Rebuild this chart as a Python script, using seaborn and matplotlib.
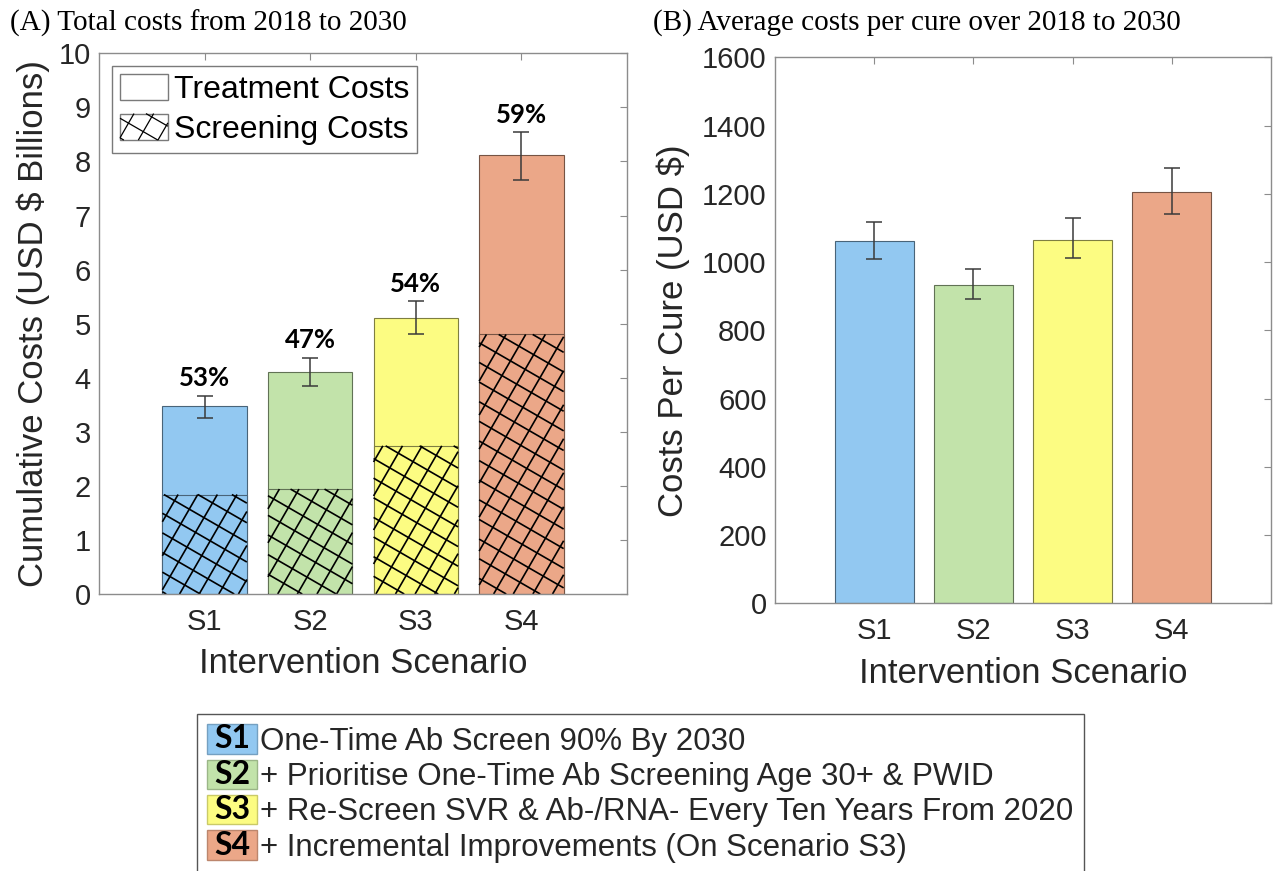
import numpy as np
import pandas as pd
import matplotlib
matplotlib.use("Agg")
import matplotlib.pyplot as plt
import matplotlib.colors as mcolors
import seaborn as sns
from matplotlib.patches import Rectangle
from matplotlib.collections import LineCollection
from matplotlib.legend_handler import HandlerBase
from matplotlib.text import Text
from matplotlib.transforms import IdentityTransform

# ---------------------------------------------------------------- data
scenarios = ["S1", "S2", "S3", "S4"]
scenario_desc = [
    "One-Time Ab Screen 90% By 2030",
    "+ Prioritise One-Time Ab Screening Age 30+ & PWID",
    "+ Re-Screen SVR & Ab-/RNA- Every Ten Years From 2020",
    "+ Incremental Improvements (On Scenario S3)",
]
scenario_colors = ["#92C8F1", "#C2E3AA", "#FCFC82", "#EBA788"]

# cumulative costs 2018-2030 (USD billions)
total_cost = [3.47, 4.11, 5.10, 8.11]
total_lo = [3.25, 3.84, 4.80, 7.66]
total_hi = [3.67, 4.37, 5.41, 8.54]
screening_cost = [1.84, 1.94, 2.74, 4.80]

# average cost per cure (USD)
cost_per_cure = [1062, 934, 1066, 1204]
cure_lo = [1009, 891, 1013, 1142]
cure_hi = [1118, 981, 1128, 1275]

cost_ticks = np.arange(0, 11, 1)
cure_ticks = np.arange(0, 1601, 200)

# ---------------------------------------------------------------- style
sns.set_style("white")
SANS = ["Liberation Sans", "DejaVu Sans"]
BOLD = ["Lato", "DejaVu Sans"]
SERIF = ["Liberation Serif", "DejaVu Serif"]
plt.rcParams["font.family"] = SANS
TXT = "#262626"
FRAME = "#8c8c8c"
HATCH_PX = 17.0
TICK_FS = 21
LABEL_FS = 25


def darker(c, f=0.5):
    r, g, b = mcolors.to_rgb(c)
    return (r * f, g * f, b * f)


def grid_hatch_segments(x0, y0, w, h, spacing, angles=(-30, 60)):
    """Two perpendicular families of parallel lines clipped to a rectangle."""
    segs = []
    corners = np.array([[x0, y0], [x0 + w, y0], [x0, y0 + h], [x0 + w, y0 + h]])
    for ang in angles:
        th = np.deg2rad(ang)
        d = np.array([np.cos(th), np.sin(th)])
        nrm = np.array([-d[1], d[0]])
        proj = corners @ nrm
        for k in np.arange(np.floor(proj.min() / spacing), np.ceil(proj.max() / spacing) + 1):
            p = k * spacing * nrm
            tmin, tmax = -np.inf, np.inf
            ok = True
            for a, (lo, hi) in enumerate([(x0, x0 + w), (y0, y0 + h)]):
                if abs(d[a]) < 1e-12:
                    if p[a] < lo or p[a] > hi:
                        ok = False
                    continue
                t1, t2 = (lo - p[a]) / d[a], (hi - p[a]) / d[a]
                tmin, tmax = max(tmin, min(t1, t2)), min(tmax, max(t1, t2))
            if ok and tmax > tmin:
                segs.append([p + tmin * d, p + tmax * d])
    return segs


class GridHatchHandler(HandlerBase):
    def create_artists(self, legend, orig_handle, xdescent, ydescent,
                       width, height, fontsize, trans):
        x0, y0 = -xdescent, -ydescent
        rect = Rectangle((x0, y0), width, height,
                         facecolor=orig_handle.get_facecolor(),
                         edgecolor=orig_handle.get_edgecolor(),
                         linewidth=orig_handle.get_linewidth(), transform=trans)
        segs = grid_hatch_segments(x0, y0, width, height, HATCH_PX * 0.72)
        lc = LineCollection(segs, colors="black", linewidths=0.9, transform=trans)
        return [rect, lc]


class TagHandler(HandlerBase):
    def __init__(self, tag):
        super().__init__()
        self.tag = tag

    def create_artists(self, legend, orig_handle, xdescent, ydescent,
                       width, height, fontsize, trans):
        x0, y0 = -xdescent, -ydescent
        rect = Rectangle((x0, y0), width, height,
                         facecolor=orig_handle.get_facecolor(),
                         edgecolor=orig_handle.get_edgecolor(),
                         linewidth=1.0, transform=trans)
        txt = Text(x0 + width / 2, y0 + height / 2, self.tag, ha="center",
                   va="center", fontsize=23, fontweight="bold", family=BOLD,
                   color="black")
        txt.set_transform(trans)
        return [rect, txt]


def style_axes(ax):
    for s in ax.spines.values():
        s.set_color(FRAME)
        s.set_linewidth(1.0)
    ax.tick_params(direction="in", top=True, right=True, length=5, width=0.8,
                   color=FRAME, labelcolor=TXT, labelsize=TICK_FS)
    ax.tick_params(axis="x", pad=10)
    ax.tick_params(axis="y", pad=6)


df = pd.DataFrame({
    "scenario": scenarios,
    "total": total_cost,
    "screening": screening_cost,
    "per_cure": cost_per_cure,
})

W, H = 1279, 871
fig = plt.figure(figsize=(W / 100, H / 100), dpi=100)
axA = fig.add_axes([99 / W, 1 - 594 / H, 528 / W, (594 - 53.3) / H])
axB = fig.add_axes([775 / W, 1 - 603.3 / H, 496 / W, (603.3 - 57.3) / H])

# ---------------------------------------------------------------- panel A
sns.barplot(data=df, x="scenario", y="total", hue="scenario",
            palette=scenario_colors, legend=False, width=0.8, errorbar=None,
            saturation=1, linewidth=0.8, ax=axA)
sns.barplot(data=df, x="scenario", y="screening", hue="scenario",
            palette=scenario_colors, legend=False, width=0.8, errorbar=None,
            saturation=1, linewidth=0.8, ax=axA)
axA.set_xlim(-1, 4)
axA.set_ylim(0, 10)
axA.set_yticks(cost_ticks)
n = len(scenarios)
for cont in axA.containers:
    for bar in cont:
        bar.set_edgecolor(darker(bar.get_facecolor()))

tot_bars = [b for c in axA.containers[:n] for b in c]
scr_bars = [b for c in axA.containers[n:] for b in c]
centers = [b.get_x() + b.get_width() / 2 for b in tot_bars]

for bar in scr_bars:
    (px0, py0), (px1, py1) = axA.transData.transform(
        [(bar.get_x(), bar.get_y()), (bar.get_x() + bar.get_width(), bar.get_y() + bar.get_height())])
    segs = grid_hatch_segments(px0, py0, px1 - px0, py1 - py0, HATCH_PX)
    lc = LineCollection(segs, colors="black", linewidths=1.2,
                        transform=IdentityTransform(), zorder=bar.get_zorder() + 0.1)
    lc.set_clip_path(bar)
    axA.add_collection(lc, autolim=False)

tot = np.array(total_cost)
axA.errorbar(centers, tot, yerr=[tot - np.array(total_lo), np.array(total_hi) - tot],
             fmt="none", ecolor="#3a3a3a", elinewidth=1.1, capsize=6, capthick=1.1, zorder=5)
for x, t, s, hi in zip(centers, total_cost, screening_cost, total_hi):
    axA.annotate(f"{round(100 * s / t)}%", (x, hi), xytext=(0, 4),
                 textcoords="offset points", ha="center", va="bottom",
                 fontsize=18.5, fontweight="bold", family=BOLD, color="black")

style_axes(axA)
axA.set_xlabel("Intervention Scenario", fontsize=LABEL_FS, color=TXT)
axA.set_ylabel("Cumulative Costs (USD $ Billions)", fontsize=LABEL_FS, color=TXT)
axA.xaxis.set_label_coords(0.5, -0.098)
axA.yaxis.set_label_coords(-0.093, 0.5)

treat_h = Rectangle((0, 0), 1, 1, facecolor="white", edgecolor="#7a7a7a", linewidth=1.0)
screen_h = Rectangle((0, 0), 1, 1, facecolor="white", edgecolor="#7a7a7a", linewidth=1.0)
legA = axA.legend([treat_h, screen_h], ["Treatment Costs", "Screening Costs"],
                  handler_map={screen_h: GridHatchHandler()},
                  loc="upper left", bbox_to_anchor=(112 / W, 1 - 66 / H),
                  bbox_transform=fig.transFigure, borderaxespad=0,
                  fontsize=23, handlelength=1.5, handleheight=0.9,
                  labelspacing=0.26, handletextpad=0.19, borderpad=0.25,
                  frameon=True, fancybox=False, framealpha=1, edgecolor="#7a7a7a")
legA.get_frame().set_linewidth(1.0)
for t in legA.get_texts():
    t.set_color("black")

# ---------------------------------------------------------------- panel B
sns.barplot(data=df, x="scenario", y="per_cure", hue="scenario",
            palette=scenario_colors, legend=False, width=0.8, errorbar=None,
            saturation=1, linewidth=0.8, ax=axB)
axB.set_xlim(-1, 4)
axB.set_ylim(0, 1600)
axB.set_yticks(cure_ticks)
for cont in axB.containers:
    for bar in cont:
        bar.set_edgecolor(darker(bar.get_facecolor()))
cb = [b for c in axB.containers for b in c]
centersB = [b.get_x() + b.get_width() / 2 for b in cb]
cpc = np.array(cost_per_cure)
axB.errorbar(centersB, cpc, yerr=[cpc - np.array(cure_lo), np.array(cure_hi) - cpc],
             fmt="none", ecolor="#3a3a3a", elinewidth=1.1, capsize=6, capthick=1.1, zorder=5)
style_axes(axB)
axB.set_xlabel("Intervention Scenario", fontsize=LABEL_FS, color=TXT)
axB.set_ylabel("Costs Per Cure (USD $)", fontsize=LABEL_FS, color=TXT)
axB.xaxis.set_label_coords(0.5, -0.098)
axB.yaxis.set_label_coords(-0.171, 0.5)

# ---------------------------------------------------------------- titles
fig.text(10 / W, 1 - 23 / H, "(A) Total costs from 2018 to 2030",
         family=SERIF, fontsize=21, ha="left", va="center", color="black")
fig.text(653 / W, 1 - 23 / H, "(B) Average costs per cure over 2018 to 2030",
         family=SERIF, fontsize=21, ha="left", va="center", color="black")

# ---------------------------------------------------------------- scenario key
key_handles = [Rectangle((0, 0), 1, 1, facecolor=c, edgecolor=darker(c, 0.8))
               for c in scenario_colors]
fig.legend(key_handles, scenario_desc,
           handler_map={h: TagHandler(s) for h, s in zip(key_handles, scenarios)},
           loc="upper left", bbox_to_anchor=(197 / W, 1 - 714 / H),
           bbox_transform=fig.transFigure, borderaxespad=0,
           fontsize=22.5, handlelength=1.6, handleheight=1.06, labelspacing=0.1,
           handletextpad=0.1, borderpad=0.33, frameon=True, fancybox=False,
           framealpha=1, edgecolor="#555555")

fig.savefig("out.png", dpi=100)
